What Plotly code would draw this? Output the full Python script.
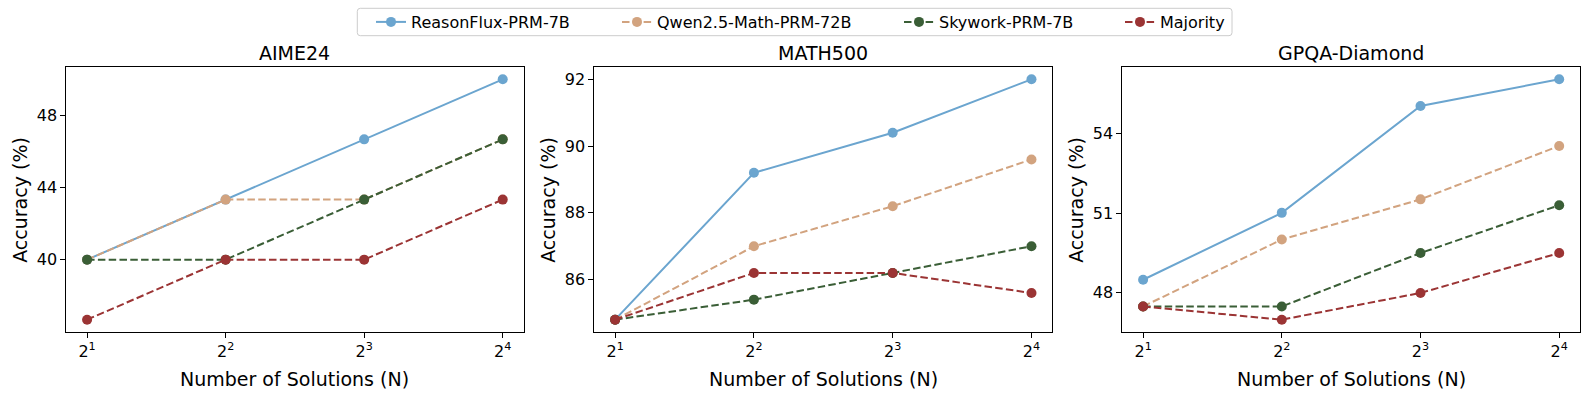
import math
import plotly.graph_objects as go

# ---------------- data ----------------
n_solutions = [2, 4, 8, 16]
tick_text = ["2<sup>1</sup>", "2<sup>2</sup>", "2<sup>3</sup>", "2<sup>4</sup>"]

datasets = ["AIME24", "MATH500", "GPQA-Diamond"]
methods = ["ReasonFlux-PRM-7B", "Qwen2.5-Math-PRM-72B", "Skywork-PRM-7B", "Majority"]

aime_reasonflux = [40.0, 43.33, 46.67, 50.0]
aime_qwen = [40.0, 43.33, 43.33, 46.67]
aime_skywork = [40.0, 40.0, 43.33, 46.67]
aime_majority = [36.67, 40.0, 40.0, 43.33]

math_reasonflux = [84.8, 89.2, 90.4, 92.0]
math_qwen = [84.8, 87.0, 88.2, 89.6]
math_skywork = [84.8, 85.4, 86.2, 87.0]
math_majority = [84.8, 86.2, 86.2, 85.6]

gpqa_reasonflux = [48.48, 51.01, 55.05, 56.06]
gpqa_qwen = [47.47, 50.0, 51.52, 53.54]
gpqa_skywork = [47.47, 47.47, 49.49, 51.3]
gpqa_majority = [47.47, 46.97, 47.98, 49.49]

y_ticks = {
    "AIME24": [40, 44, 48],
    "MATH500": [86, 88, 90, 92],
    "GPQA-Diamond": [48, 51, 54],
}

series = {
    "AIME24": [aime_reasonflux, aime_qwen, aime_skywork, aime_majority],
    "MATH500": [math_reasonflux, math_qwen, math_skywork, math_majority],
    "GPQA-Diamond": [gpqa_reasonflux, gpqa_qwen, gpqa_skywork, gpqa_majority],
}

# ---------------- style ----------------
colors = ["#6BA5CF", "#D2A37F", "#3A5E36", "#9B3434"]
dashes = ["solid", "7.5px,3.3px", "7.5px,3.3px", "7.5px,3.3px"]
FONT = "DejaVu Sans"
W, H = 1590, 396


def px_x(p):
    return p / W


def px_y(p):
    return 1 - p / H


x_domains = [(66.3, 523.5), (594.3, 1052.3), (1122.3, 1580.0)]
y_top, y_bot = 67.3, 331.7

fig = go.Figure()

legend_names = ["legend", "legend2", "legend3", "legend4"]

for i, ds in enumerate(datasets):
    xa = "x" if i == 0 else f"x{i+1}"
    ya = "y" if i == 0 else f"y{i+1}"
    for j, m in enumerate(methods):
        fig.add_trace(go.Scatter(
            x=n_solutions, y=series[ds][j], name=m,
            mode="lines+markers",
            line=dict(color=colors[j], width=2, dash=dashes[j]),
            marker=dict(color=colors[j], size=10, line=dict(width=0)),
            xaxis=xa, yaxis=ya,
            showlegend=(i == 0),
            legend=legend_names[j],
        ))

    vals = [v for s in series[ds] for v in s]
    lo, hi = min(vals), max(vals)
    pad = (hi - lo) * 0.05
    lx0 = math.log10(n_solutions[0])
    lx1 = math.log10(n_solutions[-1])
    xpad = (lx1 - lx0) * 0.05

    d0, d1 = x_domains[i]
    axis_common = dict(
        showline=True, linecolor="black", linewidth=1, mirror=True,
        ticks="outside", ticklen=5, tickwidth=1, tickcolor="black",
        showgrid=False, zeroline=False,
        tickfont=dict(family=FONT, size=16, color="black"),
    )
    fig.layout[f"xaxis{'' if i == 0 else i+1}"] = dict(
        axis_common, type="log",
        range=[lx0 - xpad, lx1 + xpad],
        tickvals=n_solutions, ticktext=tick_text,
        domain=[px_x(d0), px_x(d1)],
        anchor=ya,
    )
    fig.layout[f"yaxis{'' if i == 0 else i+1}"] = dict(
        axis_common,
        range=[lo - pad, hi + pad],
        tickvals=y_ticks[ds],
        domain=[px_y(y_bot), px_y(y_top)],
        anchor=xa,
    )

    cx = (d0 + d1) / 2
    fig.add_annotation(text=ds, xref="paper", yref="paper",
                       x=px_x(cx), y=px_y(53), xanchor="center", yanchor="middle",
                       showarrow=False, font=dict(family=FONT, size=19, color="black"))
    fig.add_annotation(text="Number of Solutions (N)", xref="paper", yref="paper",
                       x=px_x(cx), y=px_y(378.5), xanchor="center", yanchor="middle",
                       showarrow=False, font=dict(family=FONT, size=19, color="black"))
    fig.add_annotation(text="Accuracy (%)", xref="paper", yref="paper",
                       x=px_x(d0 - 47), y=px_y((y_top + y_bot) / 2),
                       xanchor="center", yanchor="middle", textangle=-90,
                       showarrow=False, font=dict(family=FONT, size=19, color="black"))

# legend frame
bx0, bx1, by0, by1, r = 357.3, 1232.0, 8.3, 35.7, 3.0
path = (f"M {px_x(bx0 + r)} {px_y(by0)} L {px_x(bx1 - r)} {px_y(by0)} "
        f"Q {px_x(bx1)} {px_y(by0)} {px_x(bx1)} {px_y(by0 + r)} "
        f"L {px_x(bx1)} {px_y(by1 - r)} Q {px_x(bx1)} {px_y(by1)} {px_x(bx1 - r)} {px_y(by1)} "
        f"L {px_x(bx0 + r)} {px_y(by1)} Q {px_x(bx0)} {px_y(by1)} {px_x(bx0)} {px_y(by1 - r)} "
        f"L {px_x(bx0)} {px_y(by0 + r)} Q {px_x(bx0)} {px_y(by0)} {px_x(bx0 + r)} {px_y(by0)} Z")
fig.add_shape(type="path", path=path, xref="paper", yref="paper",
              line=dict(color="#cccccc", width=1), fillcolor="rgba(255,255,255,0.8)")

text_starts = [411, 657, 939, 1160]
legend_cfg = {}
for k, name in enumerate(legend_names):
    legend_cfg[name] = dict(
        x=px_x(text_starts[k] - 40), xanchor="left",
        y=px_y(22), yanchor="middle",
        orientation="h", bgcolor="rgba(0,0,0,0)", borderwidth=0,
        font=dict(family=FONT, size=16, color="black"),
        itemclick=False, itemdoubleclick=False,
    )

fig.update_layout(
    width=W, height=H,
    margin=dict(l=0, r=0, t=0, b=0),
    paper_bgcolor="white", plot_bgcolor="white",
    font=dict(family=FONT, color="black"),
    **legend_cfg,
)

fig.write_html("out.html",
               config={"displayModeBar": False},
               post_script="document.body.style.margin='0';document.body.style.overflow='hidden';")
